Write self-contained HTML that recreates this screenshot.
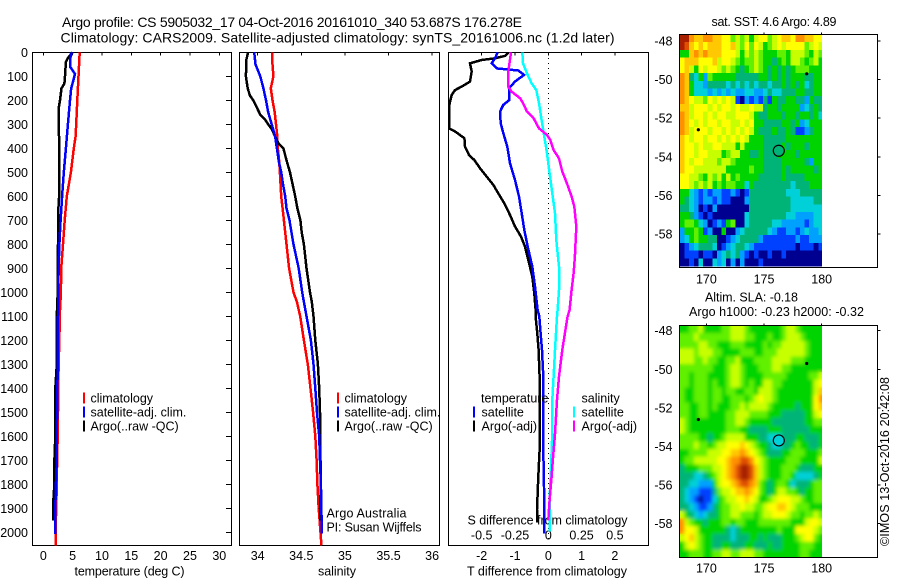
<!DOCTYPE html>
<html>
<head>
<meta charset="utf-8">
<title>Argo profile</title>
<style>
html,body{margin:0;padding:0;background:#fff;width:900px;height:580px;overflow:hidden}
svg{display:block}
text{font-family:"Liberation Sans",sans-serif;font-size:12.5px;fill:#000}
.t{font-size:14px}
</style>
</head>
<body>
<svg id="root" width="900" height="580" viewBox="0 0 900 580" xmlns="http://www.w3.org/2000/svg">
<defs>
<filter id="smooth" filterUnits="userSpaceOnUse" x="670" y="315" width="165" height="250">
<feGaussianBlur in="SourceGraphic" stdDeviation="1.8" result="b"/>
<feMerge><feMergeNode in="SourceGraphic"/><feMergeNode in="b"/></feMerge>
</filter>
<clipPath id="slaClip"><rect x="680" y="326" width="142" height="231"/></clipPath>
</defs>
<rect x="0" y="0" width="900" height="580" fill="#fff"/>
<text class="t" x="62" y="27" textLength="460">Argo profile: CS 5905032_17 04-Oct-2016 20161010_340 53.687S 176.278E</text>
<text class="t" x="60.5" y="42.5" textLength="554">Climatology: CARS2009. Satellite-adjusted climatology: synTS_20161006.nc (1.2d later)</text>
<text x="74.5" y="575.5" textLength="110">temperature (deg C)</text>
<text x="318" y="575.5" textLength="38">salinity</text>
<text x="467" y="575.5" textLength="160">T difference from climatology</text>
<text x="467.5" y="524.5" textLength="160">S difference from climatology</text>
<text x="326.5" y="517.5" textLength="80">Argo Australia</text>
<text x="326.5" y="531.5" textLength="95">PI: Susan Wijffels</text>
<text x="711.5" y="26" textLength="125">sat. SST: 4.6 Argo: 4.89</text>
<text x="705" y="301.5" textLength="93">Altim. SLA: -0.18</text>
<text x="689" y="316" textLength="175">Argo h1000: -0.23 h2000: -0.32</text>
<text transform="translate(889,546) rotate(-90)" x="0" y="0" textLength="169">©IMOS 13-Oct-2016 20:42:08</text>
</svg>
<script>
// ---------- tick labels ----------
const depthTicks = [0,100,200,300,400,500,600,700,800,900,1000,1100,1200,1300,1400,1500,1600,1700,1800,1900,2000];
const tempTicks = [0,5,10,15,20,25,30];
const salTicks = [34,34.5,35,35.5,36];
const tDiffTicks = [-2,-1,0,1,2];
const sDiffTicks = [-0.5,-0.25,0,0.25,0.5];
const lonTicks = [170,175,180];
const latTicks = [-48,-50,-52,-54,-56,-58];

// ---------- temperature panel ----------
const tempClimDepth = [0,100,200,300,350,400,500,600,700,800,900,1000,1100,1200,1300,1400,1500,1600,1700,1800,1900,2000,2054];
const tempClimValues = [6.2,6.0,5.8,5.6,5.5,5.2,4.7,4.0,3.65,3.35,3.05,3.0,2.8,2.75,2.6,2.55,2.5,2.45,2.35,2.3,2.2,2.1,2.1];
const tempSatDepth = [0,30,60,70,90,110,150,200,300,400,500,600,700,800,900,1000,1100,1200,1300,1400,1500,1600,1700,1800,1900,2008];
const tempSatValues = [4.85,4.55,4.55,4.85,5.4,5.2,4.75,4.55,4.2,3.85,3.5,3.2,2.95,2.75,2.6,2.55,2.5,2.45,2.45,2.4,2.35,2.3,2.3,2.15,2.05,2.05];
const tempArgoDepth = [0,20,40,100,130,150,200,230,400,500,600,680,800,1000,1100,1300,1400,1600,1700,1800,1870,1950];
const tempArgoValues = [5.0,4.3,3.85,3.7,3.6,3.1,2.85,2.65,2.7,2.7,2.7,2.5,2.5,2.45,2.3,2.3,2.05,2.05,1.9,1.9,1.7,1.7];

// ---------- salinity panel ----------
const salClimDepth = [0,50,100,150,200,250,300,350,400,450,500,600,650,700,800,900,1000,1040,1100,1200,1300,1400,1500,1600,1700,1800,1900,2000,2054];
const salClimValues = [34.165,34.17,34.18,34.15,34.17,34.195,34.21,34.225,34.23,34.245,34.255,34.27,34.285,34.3,34.33,34.36,34.41,34.45,34.487,34.53,34.575,34.605,34.635,34.66,34.675,34.685,34.7,34.72,34.73];
const salSatDepth = [0,50,100,150,200,250,300,350,400,450,500,550,600,650,700,800,900,1000,1040,1100,1200,1300,1400,1500,1600,1700,1800,1900,2005];
const salSatValues = [33.96,33.975,34.03,34.065,34.095,34.12,34.16,34.2,34.22,34.24,34.27,34.29,34.315,34.33,34.365,34.41,34.47,34.51,34.53,34.56,34.61,34.64,34.66,34.68,34.705,34.715,34.725,34.73,34.735];
const salArgoDepth = [0,30,100,150,180,200,230,260,280,300,320,350,380,400,450,500,550,600,650,700,750,800,900,1000,1040,1100,1200,1300,1400,1500,1600,1700,1800,1900,1950];
const salArgoValues = [33.89,33.87,33.865,33.885,33.91,33.95,33.99,34.03,34.085,34.12,34.16,34.2,34.24,34.295,34.33,34.37,34.4,34.43,34.455,34.49,34.505,34.53,34.56,34.6,34.62,34.64,34.66,34.69,34.705,34.715,34.72,34.72,34.725,34.715,34.715];

// ---------- difference panel ----------
const dTempArgoDepth = [0,5,15,25,32,46,80,122,143,157,178,205,226,317,330,358,393,428,449,483,518,553,588,629,678,726,768,810,865,935,1004,1073,1101,1170,1240,1351,1657,1768,1907,1960];
const dTempArgoValues = [-1.2,-1.22,-1.3,-1.6,-2.0,-2.35,-2.3,-2.35,-2.6,-2.8,-2.9,-2.95,-2.98,-2.98,-2.8,-2.52,-2.5,-2.38,-2.22,-2.05,-1.85,-1.65,-1.5,-1.32,-1.15,-1.0,-0.82,-0.7,-0.6,-0.48,-0.42,-0.38,-0.38,-0.33,-0.29,-0.26,-0.26,-0.3,-0.34,-0.34];
const dTempSatDepth = [0,25,46,67,76,94,122,150,199,219,247,296,337,393,462,532,601,671,740,810,893,976,1073,1101,1170,1240,1351,1657,1810,2004];
const dTempSatValues = [-1.52,-1.6,-1.7,-1.55,-0.9,-0.73,-1.0,-1.18,-1.17,-1.35,-1.45,-1.43,-1.35,-1.23,-1.15,-1.0,-0.88,-0.8,-0.72,-0.62,-0.48,-0.4,-0.32,-0.27,-0.23,-0.19,-0.15,-0.15,-0.13,-0.12];
const dSalArgoDepth = [0,39,80,143,164,192,212,247,275,317,344,365,407,442,497,546,601,643,726,851,921,990,1073,1101,1170,1240,1351,1448,1590,1727,1768,1866,1950];
const dSalArgoValues = [-0.28,-0.29,-0.3,-0.3,-0.275,-0.21,-0.19,-0.16,-0.11,-0.07,-0.01,0.015,0.04,0.08,0.105,0.14,0.175,0.195,0.21,0.2,0.19,0.175,0.16,0.145,0.125,0.105,0.08,0.065,0.05,0.03,0.025,0.01,0];
const dSalSatDepth = [0,46,88,129,157,212,282,351,421,504,588,671,782,893,990,1073,1101,1240,1351,1448,1590,1727,1866,1997];
const dSalSatValues = [-0.195,-0.19,-0.16,-0.125,-0.09,-0.07,-0.05,-0.03,-0.01,0.01,0.03,0.05,0.06,0.08,0.08,0.07,0.065,0.05,0.04,0.03,0.03,0.02,0.01,0.01];

// ---------- map grids: one hex level per cell, north to south, west to east ----------
const sstRows = [
"cca99aa998867675788678998aa99888",
"cb98989998897686875678788886787",
"559a9a9998887576765556657776576",
"8999888978876566765545657765675",
"8975878876765456765454545666555",
"a943526555554444455454545554455",
"a953324444343434344344545453455",
"a953332323232233223433444554455",
"a987768787871021214154455442544",
"9978887878878778774554555523454",
"a978878788778887544555455455453",
"a987878878877878554444554523555",
"a978887887878787544454454112455",
"9878878878787875554444455555555",
"9887877887775755554444545554555",
"9887887775677554454445555455555",
"9878877767765555554444555554255",
"9887777777555556554444545555545",
"8877657675756555544444544445555",
"8876767565665535444444443444555",
"5532121221121014444444433344444",
"5432122121100024444444443333344",
"4432010200000004444444443333333",
"5542101000000034444444433222233",
"5665320121560034444433222221233",
"2556512005002344444321122123223",
"2356554400123444421111111211222",
"0123444301234432111111111011101",
"0111011023434210100100100000000",
"0010300323020200010000000000000"
];
const slaRows = [
"5566755556677765555555677655555",
"6667666666677766555655677765555",
"6666776655566655556566777776555",
"7776777665555666556667777776555",
"7776676655667555666677776665555",
"6666666555677655566677665555555",
"6656665555677655556666655555667",
"6656665655677656557766555555578",
"6556665665665566577765555555579",
"655666566556665678776555555558a",
"6655665655566767777655555455589",
"6655665555667776666555444445578",
"7655555555667765555544444445566",
"7655555555666554444555444444555",
"6666554556777755544333444554445",
"6667665677888987655433445655445",
"5566667778899a98765444556665556",
"56677777889aabba876555566655557",
"45556667789abccb976555666544455",
"44433456789abccb976555665333345",
"443322257889abba965456653444566",
"4322111467789 9a986545776654556".replace(' ',''),
"4321011356778898755678887765566",
"4432112456677877667889987666555",
"7543234456677666567788876656676",
"a765545556656655566666665557887",
"a887555555434555555556555888876",
"7897655444434445545444555678865",
"5787655445544455444544555566655",
"5566655667766777665555555566555"
];
const sstProfileValue = [4];
const slaProfileValue = [3];

// ---------- colour ramp (level -> colour) ----------
const ramp = ['#000090','#0040ff','#00a0ff','#00d0d8','#00b478','#00d400','#60f000','#c8ff00','#ffff00','#ffc800','#ff9000','#e05000','#a82000'];

const svg = document.getElementById('root');
const NS = 'http://www.w3.org/2000/svg';
let parentNode = svg;
function mk(tag, name, attrs, txt) {
  const el = document.createElementNS(NS, tag);
  
  
  for (const k in attrs) el.setAttribute(k, attrs[k]);
  if (txt !== undefined) el.textContent = txt;
  parentNode.appendChild(el);
  return el;
}

// ---------- axis functions ----------
const plotTop = 52.5, plotBottom = 545.5;
const yDepth = d => 52.3 + 0.24 * d;
const xTemp = t => 43.3 + 5.867 * t;
const xSal = s => 257.7 + 87.2 * (s - 34);
const xDT = t => 548.3 + 33.3 * t;
const xDS = s => 548.3 + 133.2 * s;
const xLon = l => 821.7 + 11.53 * (l - 180);
const ySST = l => 41 + 19.3 * (-48 - l);
const ySLA = l => 330.7 + 19.3 * (-48 - l);

function frame(name, x0, x1) {
  mk('rect', name, {x:x0, y:plotTop, width:x1-x0, height:plotBottom-plotTop, fill:'none', stroke:'#000', 'stroke-width':1, 'shape-rendering':'crispEdges'});
}
frame('temperature-plot-frame', 32.5, 231.5);
frame('salinity-plot-frame', 239.5, 439.5);
frame('difference-plot-frame', 448.5, 648.5);

function topTick(name, x, len) {
  mk('line', name, {x1:x, x2:x, y1:plotTop, y2:plotTop+len, stroke:'#000', 'stroke-width':1, 'shape-rendering':'crispEdges'});
}
// depth ticks and labels
depthTicks.forEach(d => {
  mk('text', 'depth-tick-label', {x:28, y:yDepth(d)+4.5, 'text-anchor':'end'}, String(d));
  if (d > 0) mk('line', 'depth-tick', {x1:226, x2:231, y1:yDepth(d), y2:yDepth(d), stroke:'#000', 'shape-rendering':'crispEdges'});
});
tempTicks.forEach(t => {
  mk('text', 'temperature-tick-label', {x:xTemp(t), y:560, 'text-anchor':'middle'}, String(t));
  topTick('temperature-tick', xTemp(t), 3);
});
salTicks.forEach(s => {
  mk('text', 'salinity-tick-label', {x:xSal(s), y:560, 'text-anchor':'middle'}, String(s));
  topTick('salinity-tick', xSal(s), 3);
});
tDiffTicks.forEach(t => {
  mk('text', 't-difference-tick-label', {x:xDT(t), y:560, 'text-anchor':'middle'}, String(t));
  topTick('t-difference-tick', xDT(t), 3);
});
sDiffTicks.forEach(s => {
  mk('text', 's-difference-tick-label', {x:xDS(s), y:539.5, 'text-anchor':'middle'}, String(s));
});

mk('line', 'zero-difference-line', {x1:548.5, x2:548.5, y1:53, y2:541, stroke:'#000', 'stroke-width':1, 'stroke-dasharray':'1 4', 'shape-rendering':'crispEdges'});

function profile(name, depths, values, xf, color) {
  const pts = depths.map((d, i) => xf(values[i]).toFixed(1) + ',' + yDepth(d).toFixed(1)).join(' ');
  mk('polyline', name, {points:pts, fill:'none', stroke:color, 'stroke-width':2.5, 'shape-rendering':'crispEdges'});
}
profile('temperature-climatology-line', tempClimDepth, tempClimValues, xTemp, '#ff0000');
profile('temperature-argo-line', tempArgoDepth, tempArgoValues, xTemp, '#000000');
profile('temperature-satellite-line', tempSatDepth, tempSatValues, xTemp, '#0000ff');
profile('salinity-climatology-line', salClimDepth, salClimValues, xSal, '#ff0000');
profile('salinity-argo-line', salArgoDepth, salArgoValues, xSal, '#000000');
profile('salinity-satellite-line', salSatDepth, salSatValues, xSal, '#0000ff');
profile('t-difference-argo-line', dTempArgoDepth, dTempArgoValues, xDT, '#000000');
profile('t-difference-satellite-line', dTempSatDepth, dTempSatValues, xDT, '#0000ff');
profile('s-difference-satellite-line', dSalSatDepth, dSalSatValues, xDS, '#00ffff');
profile('s-difference-argo-line', dSalArgoDepth, dSalArgoValues, xDS, '#ff00ff');

// ---------- legends ----------
function legendEntry(name, markX, textX, y, color, label) {
  if (color) mk('rect', name + '-swatch', {x:markX, y:y-5.5, width:2, height:11, fill:color, 'shape-rendering':'crispEdges'});
  mk('text', name + '-label', {x:textX, y:y+4.5}, label);
}
legendEntry('temperature-legend-climatology', 83, 90.5, 398, '#ff0000', 'climatology');
legendEntry('temperature-legend-satellite', 83, 90.5, 412, '#0000ff', 'satellite-adj. clim.');
legendEntry('temperature-legend-argo', 83, 90.5, 426, '#000000', 'Argo(..raw -QC)');
legendEntry('salinity-legend-climatology', 337, 344.5, 398, '#ff0000', 'climatology');
legendEntry('salinity-legend-satellite', 337, 344.5, 412, '#0000ff', 'satellite-adj. clim.');
legendEntry('salinity-legend-argo', 337, 344.5, 426, '#000000', 'Argo(..raw -QC)');
legendEntry('difference-legend-temperature', 0, 481, 398, null, 'temperature');
legendEntry('difference-legend-t-satellite', 473, 481.5, 412, '#0000ff', 'satellite');
legendEntry('difference-legend-t-argo', 473, 481.5, 426, '#000000', 'Argo(-adj)');
legendEntry('difference-legend-salinity', 0, 581.5, 398, null, 'salinity');
legendEntry('difference-legend-s-satellite', 573, 581.5, 412, '#00ffff', 'satellite');
legendEntry('difference-legend-s-argo', 573, 581.5, 426, '#ff00ff', 'Argo(-adj)');

// ---------- maps ----------
const mapLeft = 679.5, mapRight = 877.5;
const lonWest = 167.71, cellLon = 0.4, cellLat = 0.4;
function map(name, rows, latNorth, yf, top, bottom, labelY, smooth) {
  const clip = mk('g', name + '-clip-group', smooth ? {'clip-path':'url(#slaClip)'} : {});
  parentNode = clip;
  const grid = mk('g', name + '-grid', smooth ? {filter:'url(#smooth)'} : {});
  parentNode = grid;
  rows.forEach((row, r) => {
    for (let c = 0; c < 31; c++) {
      const lv = parseInt(row[c] || row[row.length-1], 16);
      const lon = lonWest + c * cellLon;
      const lat = latNorth - r * cellLat;
      const x0 = xLon(lon), x1 = Math.min(xLon(lon + cellLon), 822);
      const y0 = yf(lat), y1 = yf(lat - cellLat);
      mk('rect', name + '-cell', {x:x0.toFixed(2), y:y0.toFixed(2), width:(x1-x0+0.2).toFixed(2), height:(y1-y0+0.4).toFixed(2), fill:ramp[lv], 'shape-rendering':'crispEdges'});
    }
  });
  parentNode = svg;
  mk('rect', name + '-frame', {x:mapLeft, y:top, width:mapRight-mapLeft, height:bottom-top, fill:'none', stroke:'#000', 'stroke-width':1, 'shape-rendering':'crispEdges'});
  latTicks.forEach(l => {
    mk('text', name + '-lat-label', {x:672.5, y:yf(l)+4.5, 'text-anchor':'end'}, String(l));
    mk('line', name + '-lat-tick', {x1:877.5, x2:880.5, y1:yf(l), y2:yf(l), stroke:'#000', 'shape-rendering':'crispEdges'});
  });
  lonTicks.forEach(l => {
    mk('text', name + '-lon-label', {x:xLon(l), y:labelY, 'text-anchor':'middle'}, String(l));
    mk('line', name + '-lon-tick', {x1:xLon(l), x2:xLon(l), y1:top-2, y2:top, stroke:'#000', 'shape-rendering':'crispEdges'});
  });
}
map('sst-map', sstRows, -47.66, ySST, 34.5, 267.5, 283.5, false);
map('sla-map', slaRows, -47.73, ySLA, 325.5, 557.5, 572.5, true);

function marker(name, lon, lat, yf, lv) {
  mk('circle', name, {cx:xLon(lon), cy:yf(lat), r:5.5, fill:ramp[lv], stroke:'#000', 'stroke-width':1.2});
}
marker('sst-argo-position-marker', 176.278, -53.687, ySST, sstProfileValue[0]);
marker('sla-argo-position-marker', 176.278, -53.687, ySLA, slaProfileValue[0]);
function dot(name, lon, lat, yf) {
  mk('circle', name, {cx:xLon(lon), cy:yf(lat), r:1.6, fill:'#000'});
}
dot('sst-float-dot-west', 169.3, -52.6, ySST);
dot('sst-float-dot-east', 178.7, -49.7, ySST);
dot('sla-float-dot-west', 169.3, -52.6, ySLA);
dot('sla-float-dot-east', 178.7, -49.7, ySLA);
</script>
</body>
</html>
